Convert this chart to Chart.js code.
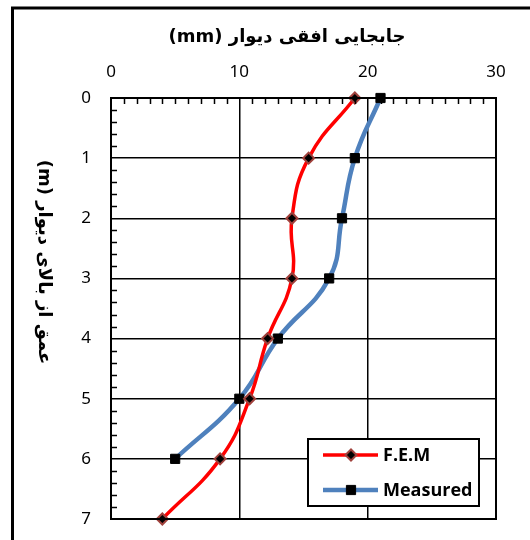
<!DOCTYPE html>
<html>
<head>
<meta charset="utf-8">
<script src="https://cdn.jsdelivr.net/npm/chart.js@4.4.0/dist/chart.umd.min.js"></script>
<style>html,body{margin:0;padding:0;background:#fff}</style>
</head>
<body>
<canvas id="myChart" width="530" height="540"></canvas>
<script>
const femDepths = [0, 1, 2, 3, 4, 5, 6, 7];
const femValues = [19, 15.4, 14.1, 14.1, 12.2, 10.8, 8.5, 4];
const measuredDepths = [0, 1, 2, 3, 4, 5, 6];
const measuredValues = [21, 19, 18, 17, 13, 10, 5];
const seriesNames = ['F.E.M', 'Measured'];
const xTitle = 'جابجایی افقی دیوار (mm)';
const yTitle = 'عمق از بالای دیوار (m)';

// frame, minor ticks, titles, legend
const decor = {
  id: 'decor',
  afterDraw(chart) {
    const ctx = chart.ctx;
    const a = chart.chartArea;
    const xs = chart.scales.x, ys = chart.scales.y;
    ctx.save();
    ctx.strokeStyle = '#000';
    ctx.lineWidth = 1.5;
    ctx.beginPath();
    for (let v = 1; v < 30; v++) {
      if (v % 10 === 0) continue;
      const px = Math.round(xs.getPixelForValue(v)) + 0.5;
      ctx.moveTo(px, a.top); ctx.lineTo(px, a.top + 6);
    }
    for (let i = 1; i < 35; i++) {
      if (i % 5 === 0) continue;
      const py = Math.round(ys.getPixelForValue(i / 5)) + 0.5;
      ctx.moveTo(a.left, py); ctx.lineTo(a.left + 6, py);
    }
    ctx.stroke();
    ctx.lineWidth = 2;
    ctx.strokeRect(a.left, a.top, a.right - a.left, a.bottom - a.top);

    // outer frame
    ctx.lineWidth = 3;
    ctx.beginPath();
    ctx.moveTo(12.5, 540); ctx.lineTo(12.5, 8); ctx.lineTo(530, 8);
    ctx.stroke();

    ctx.fillStyle = '#000';
    ctx.textAlign = 'center';
    ctx.textBaseline = 'middle';
    ctx.direction = 'rtl';
    ctx.font = 'bold 18px "DejaVu Sans"';
    ctx.fillText(xTitle, 287, 37);

    ctx.save();
    ctx.translate(44, 262);
    ctx.rotate(Math.PI / 2);
    ctx.fillText(yTitle, 0, 0);
    ctx.restore();
    ctx.direction = 'ltr';

    // legend
    ctx.fillStyle = '#fff';
    ctx.fillRect(308, 439, 171, 67);
    ctx.lineWidth = 2;
    ctx.strokeRect(308, 439, 171, 67);
    chart.data.datasets.forEach((ds, i) => {
      const y = 455 + i * 35;
      ctx.strokeStyle = ds.borderColor;
      ctx.lineWidth = ds.borderWidth;
      ctx.beginPath();
      ctx.moveTo(323, y); ctx.lineTo(378, y);
      ctx.stroke();
      ctx.fillStyle = ds.pointBackgroundColor;
      ctx.strokeStyle = ds.pointBorderColor;
      ctx.lineWidth = ds.pointBorderWidth;
      Chart.helpers.drawPoint(ctx, {pointStyle: ds.pointStyle, radius: ds.pointRadius, rotation: 0, borderWidth: ds.pointBorderWidth}, 351, y);
      ctx.fillStyle = '#000';
      ctx.textAlign = 'left';
      ctx.font = 'bold 18px "Open Sans"';
      ctx.fillText(ds.label, 383, y + 1);
    });
    ctx.restore();
  }
};

const data = {
  datasets: [{
    label: seriesNames[0],
    data: femDepths.map((d, i) => ({x: femValues[i], y: d})),
    borderColor: '#FF0000',
    borderWidth: 3.5,
    pointStyle: 'rectRot',
    pointRadius: 5.5,
    pointBackgroundColor: '#000',
    pointBorderColor: '#A0413C',
    pointBorderWidth: 2,
    showLine: true,
    tension: 0.45,
    clip: false
  }, {
    label: seriesNames[1],
    data: measuredDepths.map((d, i) => ({x: measuredValues[i], y: d})),
    borderColor: '#4F81BD',
    borderWidth: 4.5,
    pointStyle: 'rect',
    pointRadius: 6.5,
    pointBackgroundColor: '#000',
    pointBorderColor: '#000',
    pointBorderWidth: 1,
    showLine: true,
    tension: 0.45,
    clip: false
  }]
};

const config = {
  type: 'scatter',
  data: data,
  options: {
    responsive: false,
    animation: false,
    layout: {padding: {top: 58, left: 71, right: 34, bottom: 21}},
    plugins: {legend: {display: false}, title: {display: false}, tooltip: {enabled: false}},
    scales: {
      x: {
        position: 'top', min: 0, max: 30,
        afterFit(s) { s.height = 40; s.paddingLeft = 0; s.paddingRight = 0; },
        border: {display: false},
        grid: {color: '#000', lineWidth: 1.5, drawTicks: false},
        ticks: {stepSize: 10, padding: 16, color: '#000', font: {family: 'Noto Sans', size: 17}}
      },
      y: {
        reverse: true, min: 0, max: 7,
        afterFit(s) { s.width = 40; s.paddingTop = 0; s.paddingBottom = 0; },
        border: {display: false},
        grid: {color: '#000', lineWidth: 1.5, drawTicks: false},
        ticks: {stepSize: 1, padding: 20, color: '#000', font: {family: 'Noto Sans', size: 17}}
      }
    }
  },
  plugins: [decor]
};

const myChart = new Chart(document.getElementById('myChart'), config);
</script>
</body>
</html>
